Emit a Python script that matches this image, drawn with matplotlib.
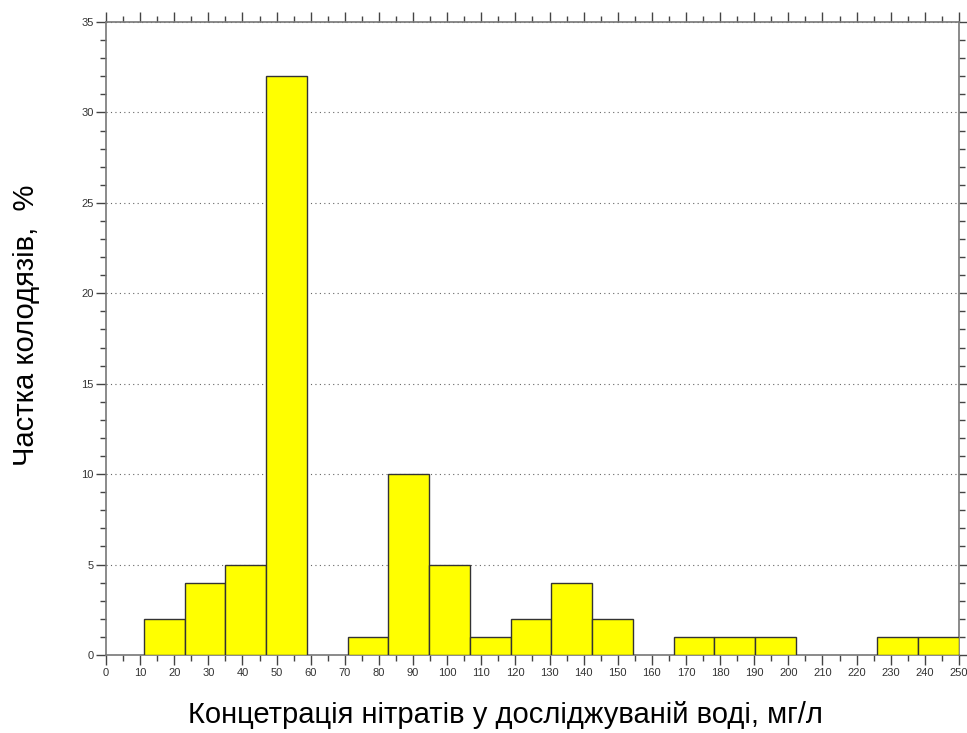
import numpy as np
import matplotlib
matplotlib.use("Agg")
import matplotlib.pyplot as plt
from matplotlib.ticker import MultipleLocator

plt.rcParams['font.family'] = ['Liberation Sans', 'DejaVu Sans']

# Histogram data (share of wells, %)
bin_start = 11.1
bin_end = 250.0
shares = [2, 4, 5, 32, 0, 1, 10, 5, 1, 2, 4, 2, 0, 1, 1, 1, 0, 0, 1, 1]
x_label = "Концетрація нітратів у досліджуваній воді, мг/л"
y_label = "Частка колодязів,  %"

edges = np.linspace(bin_start, bin_end, len(shares) + 1)
width = edges[1] - edges[0]
shares = np.array(shares)
nz = shares > 0

fig = plt.figure(figsize=(9.67, 7.33), dpi=100)
ax = fig.add_axes([0.1096, 0.1064, 0.8821, 0.8636])

ax.bar(edges[:-1][nz], shares[nz], width=width, align='edge',
       color='#ffff00', edgecolor='#333333', linewidth=1.0, zorder=3)

ax.set_xlim(0, 250)
ax.set_ylim(0, 35)
ax.xaxis.set_major_locator(MultipleLocator(10))
ax.xaxis.set_minor_locator(MultipleLocator(5))
ax.yaxis.set_major_locator(MultipleLocator(5))
ax.yaxis.set_minor_locator(MultipleLocator(1))

ax.yaxis.grid(True, which='major', linestyle=(0, (1, 3)), color='#666666', linewidth=0.8, zorder=1)

for s in ax.spines.values():
    s.set_color('#777777')
    s.set_linewidth(1.2)

ax.tick_params(which='both', direction='out', color='#444444',
               top=True, right=True, labeltop=False, labelright=False)
ax.tick_params(which='major', length=7, width=1, labelsize=8, labelcolor='#333333', pad=2)
ax.tick_params(which='minor', length=4, width=1)

ax.set_xlabel(x_label, fontsize=21)
ax.xaxis.set_label_coords(0.468, -0.073)
ax.set_ylabel(y_label, fontsize=21)
ax.yaxis.set_label_coords(-0.077, 0.521)

fig.savefig("out.png", dpi=100)
